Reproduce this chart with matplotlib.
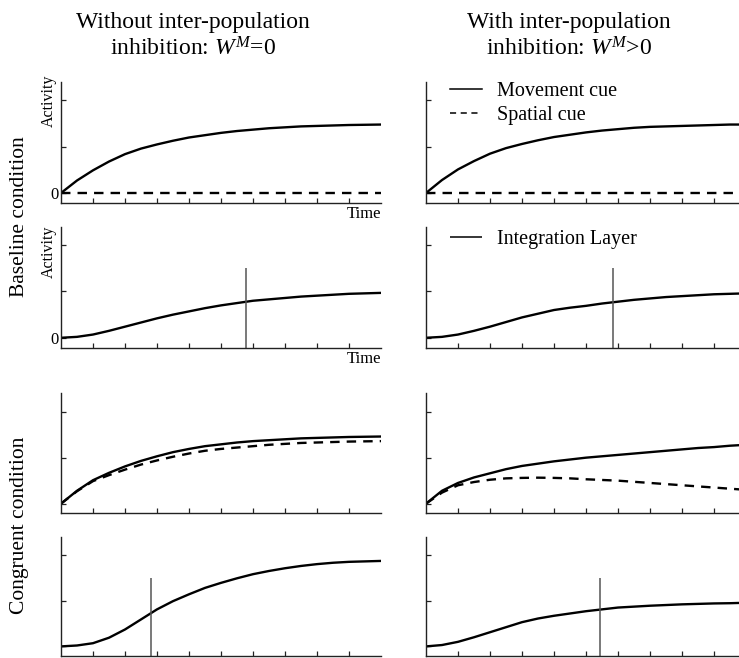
import numpy as np
import matplotlib
matplotlib.use('Agg')
import matplotlib.pyplot as plt

plt.rcParams['font.family'] = ['Liberation Serif', 'DejaVu Serif']
plt.rcParams['mathtext.fontset'] = 'custom'
plt.rcParams['mathtext.rm'] = 'Liberation Serif'
plt.rcParams['mathtext.it'] = 'Liberation Serif:italic'

# ---------------- data ----------------
time = [0, 0.5, 1, 1.5, 2, 2.5, 3, 3.5, 4, 4.5, 5, 5.5, 6, 6.5, 7, 7.5, 8, 8.5, 9, 9.5, 10]

base_move_left = [0, 0.27, 0.49, 0.68, 0.84, 0.96, 1.05, 1.13, 1.20, 1.25, 1.30, 1.34, 1.37,
                  1.40, 1.42, 1.44, 1.45, 1.46, 1.47, 1.475, 1.48]
base_spat_left = [0.0] * 21
base_move_right = [0, 0.28, 0.51, 0.69, 0.85, 0.97, 1.06, 1.14, 1.21, 1.26, 1.31, 1.35, 1.38,
                   1.41, 1.43, 1.44, 1.45, 1.46, 1.47, 1.48, 1.48]
base_spat_right = [0.0] * 21

base_integ_left = [0, 0.02, 0.07, 0.15, 0.24, 0.33, 0.42, 0.50, 0.57, 0.64, 0.70, 0.75, 0.80,
                   0.83, 0.86, 0.89, 0.91, 0.93, 0.95, 0.96, 0.97]
base_integ_right = [0, 0.02, 0.07, 0.15, 0.24, 0.34, 0.44, 0.52, 0.60, 0.65, 0.69, 0.74, 0.78,
                    0.82, 0.85, 0.88, 0.90, 0.92, 0.94, 0.95, 0.96]

cong_move_left = [0, 0.28, 0.51, 0.67, 0.81, 0.93, 1.03, 1.12, 1.19, 1.25, 1.29, 1.33, 1.36,
                  1.38, 1.40, 1.42, 1.43, 1.44, 1.45, 1.455, 1.46]
cong_spat_left = [0, 0.27, 0.49, 0.62, 0.74, 0.85, 0.94, 1.02, 1.09, 1.15, 1.19, 1.22, 1.25,
                  1.28, 1.30, 1.32, 1.33, 1.34, 1.35, 1.355, 1.36]
cong_move_right = [0, 0.28, 0.45, 0.57, 0.66, 0.75, 0.82, 0.87, 0.92, 0.96, 1.00, 1.03, 1.06,
                   1.09, 1.12, 1.15, 1.18, 1.21, 1.23, 1.26, 1.28]
cong_spat_right = [0, 0.24, 0.40, 0.47, 0.52, 0.55, 0.56, 0.565, 0.56, 0.55, 0.53, 0.515, 0.50,
                   0.475, 0.45, 0.425, 0.40, 0.375, 0.35, 0.325, 0.30]

cong_integ_left = [0, 0.02, 0.07, 0.19, 0.37, 0.59, 0.81, 0.99, 1.14, 1.28, 1.39, 1.49, 1.58,
                   1.65, 1.71, 1.76, 1.80, 1.83, 1.85, 1.86, 1.87]
cong_integ_right = [0, 0.03, 0.10, 0.20, 0.31, 0.42, 0.53, 0.61, 0.67, 0.72, 0.77, 0.81, 0.85,
                    0.87, 0.89, 0.905, 0.92, 0.93, 0.94, 0.945, 0.955]

# response time markers (vertical lines) and their heights
rt_base_left, rt_base_right = 5.78, 5.83
rt_cong_left, rt_cong_right = 2.8, 5.45
rt_height = 1.5

col_titles = ['Without inter-population\ninhibition: $W^M$=0',
              'With inter-population\ninhibition: $W^M$>0']
row_titles = ['Baseline condition', 'Congruent condition']
x_ticks = [1, 2, 3, 4, 5, 6, 7, 8, 9]
y_ticks = [0, 1, 2]

# ---------------- layout ----------------
W, H = 739, 658
fig = plt.figure(figsize=(W / 100, H / 100), dpi=100)

col_left = [61, 426]
ax_w = 320
row_tb = [(82, 202.7), (226.7, 347.5), (393.3, 513.3), (536.7, 656)]

ylim = (-0.21, 2.4)
xlim = (0, 10)
LW = 1.7
DASH = (4, 3)
spine_col = '#222222'
vcol = '#555555'


def make_ax(r, c):
    top, bot = row_tb[r]
    ax = fig.add_axes([col_left[c] / W, 1 - bot / H, ax_w / W, (bot - top) / H])
    ax.set_xlim(*xlim)
    ax.set_ylim(*ylim)
    for s in ['top', 'right']:
        ax.spines[s].set_visible(False)
    for s in ['left', 'bottom']:
        ax.spines[s].set_color(spine_col)
        ax.spines[s].set_linewidth(1.0)
    ax.set_xticks(x_ticks)
    ax.set_yticks(y_ticks)
    ax.set_xticklabels([])
    ax.set_yticklabels([])
    ax.tick_params(direction='in', length=3.5, width=0.9, color=spine_col, pad=2,
                   labelsize=12)
    return ax


axes = [[make_ax(r, c) for c in range(2)] for r in range(4)]

# Row 1: baseline cue layer
for c, (mv, sp) in enumerate([(base_move_left, base_spat_left),
                              (base_move_right, base_spat_right)]):
    ax = axes[0][c]
    ax.plot(time, mv, color='black', lw=LW, label='Movement cue')
    ax.plot(time, sp, color='black', lw=LW, dashes=DASH, label='Spatial cue')

# Row 2: baseline integration
for c, (ig, rt) in enumerate([(base_integ_left, rt_base_left),
                              (base_integ_right, rt_base_right)]):
    ax = axes[1][c]
    ax.plot(time, ig, color='black', lw=LW)
    ax.vlines(rt, ylim[0], rt_height, color=vcol, lw=1.1, label='Integration Layer')

# Row 3: congruent cue layer
for c, (mv, sp) in enumerate([(cong_move_left, cong_spat_left),
                              (cong_move_right, cong_spat_right)]):
    ax = axes[2][c]
    ax.plot(time, mv, color='black', lw=LW)
    ax.plot(time, sp, color='black', lw=LW, dashes=DASH)

# Row 4: congruent integration
for c, (ig, rt) in enumerate([(cong_integ_left, rt_cong_left),
                              (cong_integ_right, rt_cong_right)]):
    ax = axes[3][c]
    ax.plot(time, ig, color='black', lw=LW)
    ax.vlines(rt, ylim[0], rt_height, color=vcol, lw=1.1)

# labels on left-top panels
for r, act_y in [(0, 0.84), (1, 0.795)]:
    ax = axes[r][0]
    ax.set_yticklabels(['0', '', ''])
    ax.text(-0.037, act_y, 'Activity', rotation=90, ha='center', va='center',
            transform=ax.transAxes, fontsize=11.5)
    ax.text(1.0, -0.03, 'Time', ha='right', va='top', transform=ax.transAxes,
            fontsize=12)

# legends
leg1 = axes[0][1].legend(loc='upper left', bbox_to_anchor=(0.075, 1.0), frameon=False,
                         fontsize=14.5, handlelength=1.6, handletextpad=0.75,
                         labelspacing=0.25, borderpad=0, borderaxespad=0)
for h in leg1.get_lines():
    h.set_linewidth(1.1)
leg2 = axes[1][1].legend(loc='upper left', bbox_to_anchor=(0.075, 0.975), frameon=False,
                         fontsize=14.5, handlelength=1.6, handletextpad=0.75,
                         borderpad=0, borderaxespad=0)
for h in leg2.legend_handles:
    h.set_color('black')
    h.set_linewidth(1.1)

# column titles
for cx, title in zip([193, 569], col_titles):
    l1, l2 = title.split('\n')
    fig.text(cx / W, 1 - 28 / H, l1, ha='center', va='baseline', fontsize=17)
    fig.text(cx / W, 1 - 55 / H, l2, ha='center', va='baseline', fontsize=17)

# row titles
fig.text(20 / W, 1 - 217 / H, row_titles[0], rotation=90, ha='center', va='center',
         fontsize=15.5)
fig.text(20 / W, 1 - 525 / H, row_titles[1], rotation=90, ha='center', va='center',
         fontsize=15.5)

fig.savefig('out.png', dpi=100)
